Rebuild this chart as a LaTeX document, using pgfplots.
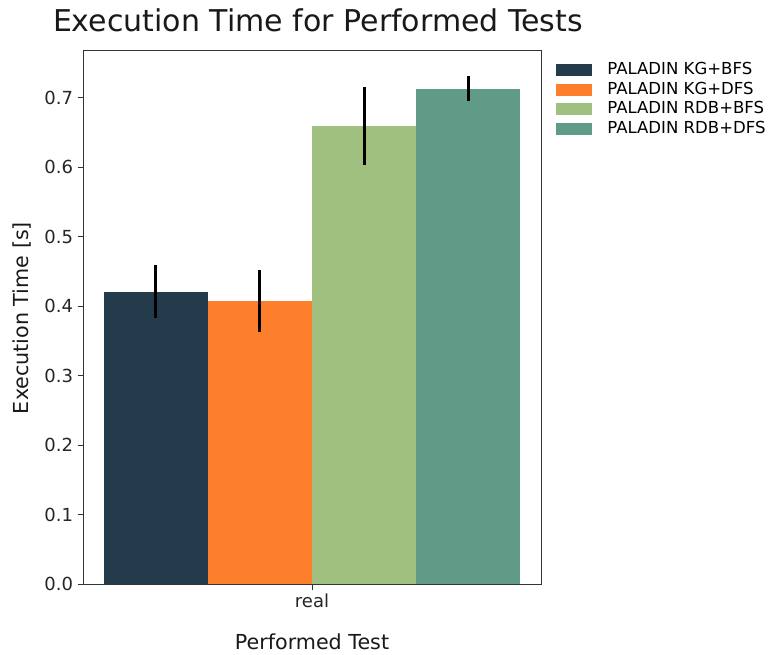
\documentclass[border=0pt]{standalone}
\usepackage{fontspec}
\setmainfont{DejaVu Sans}
\usepackage{pgfplots}
\pgfplotsset{compat=1.18}
\definecolor{c1}{HTML}{243B4B}
\definecolor{c2}{HTML}{FD7F2C}
\definecolor{c3}{HTML}{A0C080}
\definecolor{c4}{HTML}{5F9B87}
\begin{document}
\begin{tikzpicture}
\useasboundingbox (0,0) rectangle (588pt,490.5pt);
\begin{axis}[
  at={(62.25pt,52.3pt)}, anchor=south west,
  scale only axis, width=343.5pt, height=400.7pt,
  xmin=-0.44, xmax=0.44, ymin=0, ymax=0.769,
  xtick={0}, xticklabels={real},
  ytick={0,0.1,0.2,0.3,0.4,0.5,0.6,0.7},
  yticklabel style={/pgf/number format/fixed,/pgf/number format/fixed zerofill,/pgf/number format/precision=1},
  /pgf/number format/assume math mode=true,
  tick label style={font=\fontsize{13.5}{16}\selectfont, text=black!85},
  tick align=outside, tick pos=lower, major tick length=4pt,
  axis line style={black!80, line width=0.7pt},
  tick style={black!80, line width=0.7pt},
  ybar, bar width=0.2, bar shift=0pt,
  legend style={draw=none, fill=none, inner sep=0pt, at={(1.033,0.977)}, anchor=north west,
    font=\fontsize{12.4}{14}\selectfont, row sep=3.2pt,
    nodes={inner sep=0pt, anchor=west, text height=9pt, text depth=2.5pt}},
  legend cell align=left,
  legend image code/.code={\fill[#1] (0pt,-4.5pt) rectangle (27pt,4.5pt);},
  /tikz/every odd column/.append style={column sep=11.25pt},
  error bars/y dir=both, error bars/y explicit,
  error bars/error mark=none,
  error bars/error bar style={line width=2.2pt, black},
]
\addplot[fill=c1, draw=none] coordinates {(-0.3,0.421) +- (0,0.038)};
\addlegendentry{PALADIN KG+BFS}
\addplot[fill=c2, draw=none] coordinates {(-0.1,0.408) +- (0,0.045)};
\addlegendentry{PALADIN KG+DFS}
\addplot[fill=c3, draw=none] coordinates {(0.1,0.660) +- (0,0.056)};
\addlegendentry{PALADIN RDB+BFS}
\addplot[fill=c4, draw=none] coordinates {(0.3,0.713) +- (0,0.018)};
\addlegendentry{PALADIN RDB+DFS}
\end{axis}
\node[anchor=base, inner sep=0pt, font=\fontsize{22.5}{26}\selectfont, text=black!90] at (238.5pt,466.5pt) {Execution Time for Performed Tests};
\node[rotate=90, font=\fontsize{15.5}{18}\selectfont, text=black!90] at (16.5pt,252pt) {Execution Time [s]};
\node[anchor=base, inner sep=0pt, font=\fontsize{15.5}{18}\selectfont, text=black!90] at (234pt,3.5pt) {Performed Test};
\end{tikzpicture}
\end{document}
